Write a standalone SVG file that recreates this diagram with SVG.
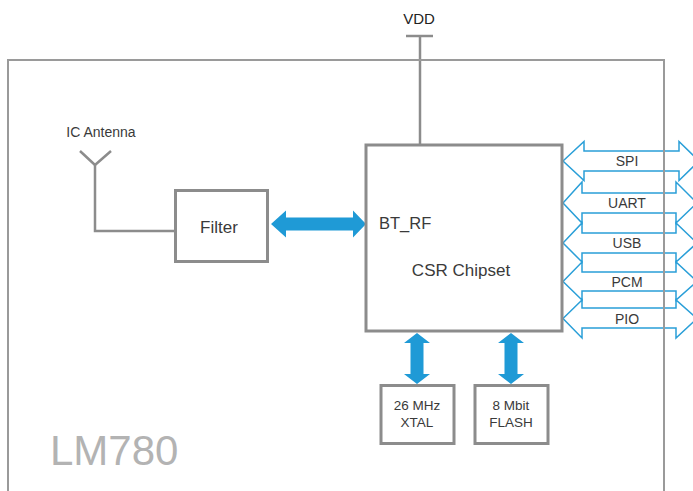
<svg xmlns="http://www.w3.org/2000/svg" width="693" height="491" viewBox="0 0 693 491">
<style>
.box{fill:#fff;stroke:#8c8c8c;stroke-width:3}
.wire{fill:none;stroke:#8c8c8c;stroke-width:2.5}
.bus{fill:#fff;stroke:#2a9fd8;stroke-width:1.5;stroke-linejoin:miter}
.thick{fill:#1f9ad6}
text{font-family:"Liberation Sans",Arial,sans-serif;fill:#3a3a3a}
.c{text-anchor:middle}
</style>
<rect width="693" height="491" fill="#fff"/>
<g id="connectors">
  <polyline class="wire" points="80,151 95,165 111,151"/>
  <polyline class="wire" points="95,165 95,231 175,231"/>
  <line class="wire" x1="406" y1="36" x2="433" y2="36"/>
  <line class="wire" x1="420" y1="36" x2="420" y2="145"/>
  <polygon class="thick" points="271,224 286,210.5 286,217.5 353,217.5 353,210.5 366,224 353,237.5 353,230.5 286,230.5 286,237.5"/>
  <polygon class="thick" points="417,333 430,343 423.5,343 423.5,374 430,374 417,384 404,374 410.5,374 410.5,343 404,343"/>
  <polygon class="thick" points="511,333 524,343 517.5,343 517.5,374 524,374 511,384 498,374 504.5,374 504.5,343 498,343"/>
</g>
<g id="buses">
  <polygon class="bus" points="563,161 584,141.5 584,151 679,151 679,141.5 699,161 679,180.5 679,171 584,171 584,180.5"/>
  <polygon class="bus" points="563,203 582,182 582,193 676,193 676,182 697,203 676,223 676,213 582,213 582,223"/>
  <polygon class="bus" points="563,243 582,223 582,233 676,233 676,223 697,243 676,262 676,253 582,253 582,262"/>
  <polygon class="bus" points="563,281.5 582,262 582,272 676,272 676,262 697,281.5 676,300 676,291 582,291 582,300"/>
  <polygon class="bus" points="563,318.5 582,300 582,308 676,308 676,300 697,318.5 676,338 676,328 582,328 582,338"/>
  <text class="c" x="627" y="166" font-size="14">SPI</text>
  <text class="c" x="627" y="208" font-size="14">UART</text>
  <text class="c" x="627" y="248" font-size="14">USB</text>
  <text class="c" x="627" y="286.5" font-size="14">PCM</text>
  <text class="c" x="627" y="323.5" font-size="14">PIO</text>
</g>
<g id="module">
  <rect x="8" y="60" width="656" height="460" fill="none" stroke="#9a9a9a" stroke-width="2"/>
  <text x="50" y="465" font-size="42" style="fill:#b3b3b3">LM780</text>
</g>
<g id="vdd">
  <text class="c" x="419" y="24" font-size="15" style="fill:#222">VDD</text>
</g>
<g id="antenna">
  <text class="c" x="101" y="137" font-size="14">IC Antenna</text>
</g>
<g id="filter">
  <rect class="box" x="175.5" y="190.5" width="92" height="71"/>
  <text class="c" x="219" y="233" font-size="17">Filter</text>
</g>
<g id="chipset">
  <rect class="box" x="366" y="145" width="196" height="186"/>
  <text x="379" y="229" font-size="16.5">BT_RF</text>
  <text class="c" x="461" y="276" font-size="17">CSR Chipset</text>
</g>
<g id="xtal">
  <rect class="box" x="381" y="385.5" width="73" height="58"/>
  <text class="c" x="417" y="410" font-size="13.5">26 MHz</text>
  <text class="c" x="417" y="427" font-size="13.5">XTAL</text>
</g>
<g id="flash">
  <rect class="box" x="475" y="385.5" width="73" height="58"/>
  <text class="c" x="511" y="410" font-size="13.5">8 Mbit</text>
  <text class="c" x="511" y="427" font-size="13.5">FLASH</text>
</g>
</svg>
